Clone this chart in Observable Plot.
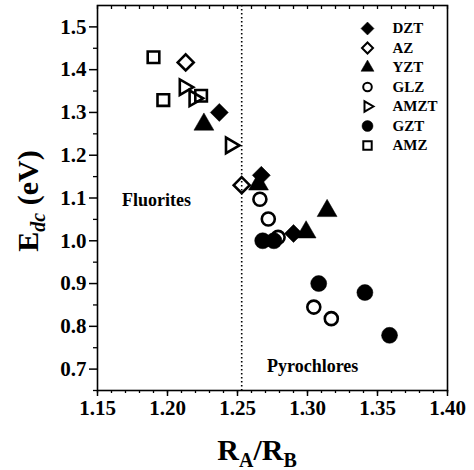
<!DOCTYPE html>
<html>
<head>
<meta charset="utf-8">
<script src="https://cdn.jsdelivr.net/npm/d3@7"></script>
<script src="https://cdn.jsdelivr.net/npm/@observablehq/plot@0.6"></script>
<style>
  html, body { margin: 0; padding: 0; background: #fff; }
  #chart svg { display: block; }
</style>
</head>
<body>
<div id="chart"></div>
<script>
// ---- data ----
const seriesNames = ["DZT", "AZ", "YZT", "GLZ", "AMZT", "GZT", "AMZ"];
const DZT_x  = [1.237, 1.267, 1.290];
const DZT_y  = [1.300, 1.153, 1.017];
const AZ_x   = [1.213, 1.253];
const AZ_y   = [1.417, 1.130];
const YZT_x  = [1.226, 1.265, 1.299, 1.314];
const YZT_y  = [1.272, 1.132, 1.020, 1.070];
const GLZ_x  = [1.266, 1.272, 1.279, 1.3045, 1.317];
const GLZ_y  = [1.097, 1.051, 1.008, 0.845, 0.818];
const AMZT_x = [1.212, 1.219, 1.245];
const AMZT_y = [1.359, 1.333, 1.223];
const GZT_x  = [1.268, 1.276, 1.308, 1.341, 1.3586];
const GZT_y  = [1.000, 1.000, 0.900, 0.879, 0.779];
const AMZ_x  = [1.190, 1.197, 1.224];
const AMZ_y  = [1.429, 1.329, 1.339];
const boundaryX = [1.253];
const regionLabels = ["Fluorites", "Pyrochlores"];
const xMajorTicks = [1.15, 1.20, 1.25, 1.30, 1.35, 1.40];
const yMajorTicks = [0.7, 0.8, 0.9, 1.0, 1.1, 1.2, 1.3, 1.4, 1.5];

// ---- symbols ----
const sym = (fn) => ({draw(ctx, size) { const r = Math.sqrt(size / Math.PI); fn(ctx, r); }});
const circleSym = sym((c, r) => { c.moveTo(r, 0); c.arc(0, 0, r, 0, 2 * Math.PI); c.closePath(); });
const squareSym = sym((c, r) => { c.moveTo(-r, -r); c.lineTo(r, -r); c.lineTo(r, r); c.lineTo(-r, r); c.closePath(); });
const diamondSym = sym((c, r) => { c.moveTo(0, -r); c.lineTo(r, 0); c.lineTo(0, r); c.lineTo(-r, 0); c.closePath(); });
const triUpSym = sym((c, r) => { c.moveTo(0, -r); c.lineTo(0.866 * r, 0.5 * r); c.lineTo(-0.866 * r, 0.5 * r); c.closePath(); });
const triRightSym = sym((c, r) => { c.moveTo(r, 0); c.lineTo(-0.5 * r, 0.866 * r); c.lineTo(-0.5 * r, -0.866 * r); c.closePath(); });

const series = [
  {name: "DZT",  xs: DZT_x,  ys: DZT_y,  symbol: diamondSym,  filled: true,  r: 9,   lr: 6.5},
  {name: "AZ",   xs: AZ_x,   ys: AZ_y,   symbol: diamondSym,  filled: false, r: 8,   lr: 5.5},
  {name: "YZT",  xs: YZT_x,  ys: YZT_y,  symbol: triUpSym,    filled: true,  r: 11.5,lr: 7.5},
  {name: "GLZ",  xs: GLZ_x,  ys: GLZ_y,  symbol: circleSym,   filled: false, r: 6.5, lr: 4.3},
  {name: "AMZT", xs: AMZT_x, ys: AMZT_y, symbol: triRightSym, filled: false, r: 9,   lr: 6},
  {name: "GZT",  xs: GZT_x,  ys: GZT_y,  symbol: circleSym,   filled: true,  r: 8,   lr: 5.5},
  {name: "AMZ",  xs: AMZ_x,  ys: AMZ_y,  symbol: squareSym,   filled: false, r: 5.8, lr: 4.2}
];

const FONT = "'Liberation Serif', 'Times New Roman', serif";
const W = 474, H = 470, mL = 97, mR = 27, mT = 5, mB = 80;
const innerH = H - mT - mB;

const xMinor = d3.range(115, 141).map(d => d / 100);
const yMinor = d3.range(13, 31).map(d => d / 20).filter(d => !yMajorTicks.some(t => Math.abs(t - d) < 1e-9));

const marks = [];
marks.push(Plot.ruleX(boundaryX, {stroke: "black", strokeWidth: 1.6, strokeDasharray: "1.6,2.4"}));

for (const s of series) {
  const pts = s.xs.map((x, i) => ({x, y: s.ys[i]}));
  marks.push(Plot.dot(pts, {
    x: "x", y: "y", symbol: s.symbol, r: s.r,
    fill: s.filled ? "black" : "none",
    stroke: "black", strokeWidth: s.filled ? 0.5 : 2.6
  }));
}

// legend
series.forEach((s, i) => {
  marks.push(Plot.dot([s.name], {
    frameAnchor: "top-left", dx: 270, dy: 23 + i * 19.5,
    symbol: s.symbol, r: s.lr,
    fill: s.filled ? "black" : "none", stroke: "black", strokeWidth: s.filled ? 0.5 : 2
  }));
  marks.push(Plot.text([s.name], {
    frameAnchor: "top-left", dx: 295, dy: 23 + i * 19.5, text: d => d,
    textAnchor: "start", lineAnchor: "middle",
    fontSize: 15, fontWeight: "bold", fontFamily: FONT, fill: "black"
  }));
});

// region labels
marks.push(Plot.text([regionLabels[0]], {
  frameAnchor: "top-left", dx: 24.5, dy: 200, text: d => d, textAnchor: "start", lineAnchor: "bottom",
  fontSize: 18, fontWeight: "bold", fontFamily: FONT, fill: "black"
}));
marks.push(Plot.text([regionLabels[1]], {
  frameAnchor: "top-left", dx: 169.5, dy: 366.5, text: d => d, textAnchor: "start", lineAnchor: "bottom",
  fontSize: 18, fontWeight: "bold", fontFamily: FONT, fill: "black"
}));

// axes
const tickFont = {fontSize: 21, fontWeight: "bold", fontFamily: FONT, fill: "black"};
marks.push(Plot.axisX({ticks: xMajorTicks, tickSize: 6, tickPadding: 4, tickFormat: d3.format(".2f"), label: null, strokeWidth: 1.5, ...tickFont}));
marks.push(Plot.axisX({ticks: xMinor, tickSize: 3, tickFormat: () => "", label: null, strokeWidth: 1.3}));
marks.push(Plot.axisY({ticks: yMajorTicks, tickSize: 8, tickPadding: 3, tickFormat: d3.format(".1f"), label: null, strokeWidth: 1.5, ...tickFont}));
marks.push(Plot.axisY({ticks: yMinor, tickSize: 4, tickFormat: () => "", label: null, strokeWidth: 1.3}));
// top inward ticks
marks.push(Plot.tickX(xMinor, {x: d => d, insetBottom: innerH - 4, stroke: "black", strokeWidth: 1.3}));
marks.push(Plot.frame({stroke: "black", strokeWidth: 1.6}));

const chart = Plot.plot({
  width: W, height: H,
  marginLeft: mL, marginRight: mR, marginTop: mT, marginBottom: mB,
  style: {background: "white", color: "black", fontFamily: FONT},
  x: {domain: [1.15, 1.40]},
  y: {domain: [0.65, 1.55]},
  marks
});

const svg = d3.select(chart);
// x axis label R_A/R_B
const xl = svg.append("text")
  .attr("x", 257).attr("y", 460)
  .attr("text-anchor", "middle")
  .attr("font-family", FONT).attr("font-weight", "bold").attr("font-size", 30).attr("fill", "black");
xl.append("tspan").text("R");
xl.append("tspan").attr("font-size", 20).attr("dy", 7).text("A");
xl.append("tspan").attr("dy", -7).text("/R");
xl.append("tspan").attr("font-size", 20).attr("dy", 7).text("B");

// y axis label E_dc (eV)
const yl = svg.append("text")
  .attr("transform", "translate(38,201) rotate(-90)")
  .attr("text-anchor", "middle")
  .attr("font-family", FONT).attr("font-weight", "bold").attr("font-size", 30).attr("fill", "black");
yl.append("tspan").text("E");
yl.append("tspan").attr("font-size", 20).attr("font-style", "italic").attr("dy", 7).text("dc");
yl.append("tspan").attr("dy", -7).text(" (eV)");

document.getElementById("chart").appendChild(chart);
</script>
</body>
</html>
